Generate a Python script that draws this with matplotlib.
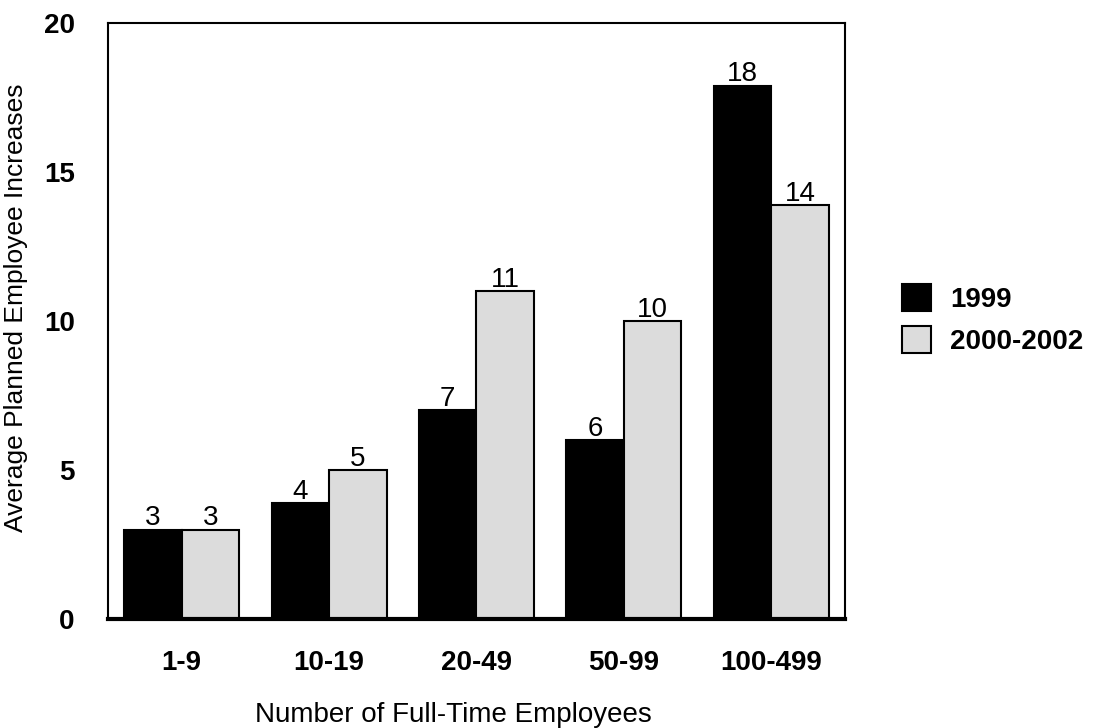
import matplotlib
matplotlib.use("Agg")
import matplotlib.pyplot as plt
import numpy as np

plt.rcParams['font.family'] = ['Liberation Sans', 'DejaVu Sans']

categories = ["1-9", "10-19", "20-49", "50-99", "100-499"]
series_names = ["1999", "2000-2002"]
values_1999 = [3, 3.9, 7, 6, 17.9]
values_2000 = [3, 5, 11, 10, 13.9]
labels_1999 = ["3", "4", "7", "6", "18"]
labels_2000 = ["3", "5", "11", "10", "14"]
y_ticks = [0, 5, 10, 15, 20]

fig = plt.figure(figsize=(10.95, 7.28), dpi=100)
ax = fig.add_axes([108/1095, 1-619/728, (845-108)/1095, (619-23)/728])

x = np.arange(len(categories))
w = 0.39
b1 = ax.bar(x - w/2, values_1999, w, color='black', edgecolor='black', linewidth=1.5, label=series_names[0])
b2 = ax.bar(x + w/2, values_2000, w, color='#dcdcdc', edgecolor='black', linewidth=1.5, label=series_names[1])

for bars, labs in ((b1, labels_1999), (b2, labels_2000)):
    for rect, lab in zip(bars, labs):
        ax.annotate(lab, (rect.get_x() + rect.get_width()/2, rect.get_height()),
                    xytext=(0, 3), textcoords='offset points',
                    ha='center', va='baseline', fontsize=20)

ax.set_xlim(-0.5, len(categories) - 0.5)
ax.set_ylim(0, 20)
ax.set_yticks(y_ticks)
ax.set_yticklabels([str(t) for t in y_ticks], fontsize=20, fontweight='bold')
ax.set_xticks(x)
ax.set_xticklabels(categories, fontsize=20, fontweight='bold')
ax.tick_params(axis='both', length=0)
ax.tick_params(axis='y', pad=24)
ax.tick_params(axis='x', pad=22)

for s in ['top', 'right', 'left']:
    ax.spines[s].set_linewidth(1.5)
ax.spines['bottom'].set_linewidth(3)

ax.set_xlabel("Number of Full-Time Employees", fontsize=20)
ax.xaxis.set_label_coords(0.469, -0.139)
ax.set_ylabel("Average Planned Employee Increases", fontsize=19)
ax.yaxis.set_label_coords(-0.108, 0.522)

leg = fig.legend(handles=[b1, b2], labels=series_names, loc='center left',
                 bbox_to_anchor=(902/1095, 1-319.5/728), bbox_transform=fig.transFigure,
                 frameon=False, borderpad=0, borderaxespad=0,
                 prop={'size': 20, 'weight': 'bold'}, handlelength=1.05, handleheight=1.1,
                 handletextpad=0.68, labelspacing=0.47)

fig.savefig("out.png", dpi=100)
